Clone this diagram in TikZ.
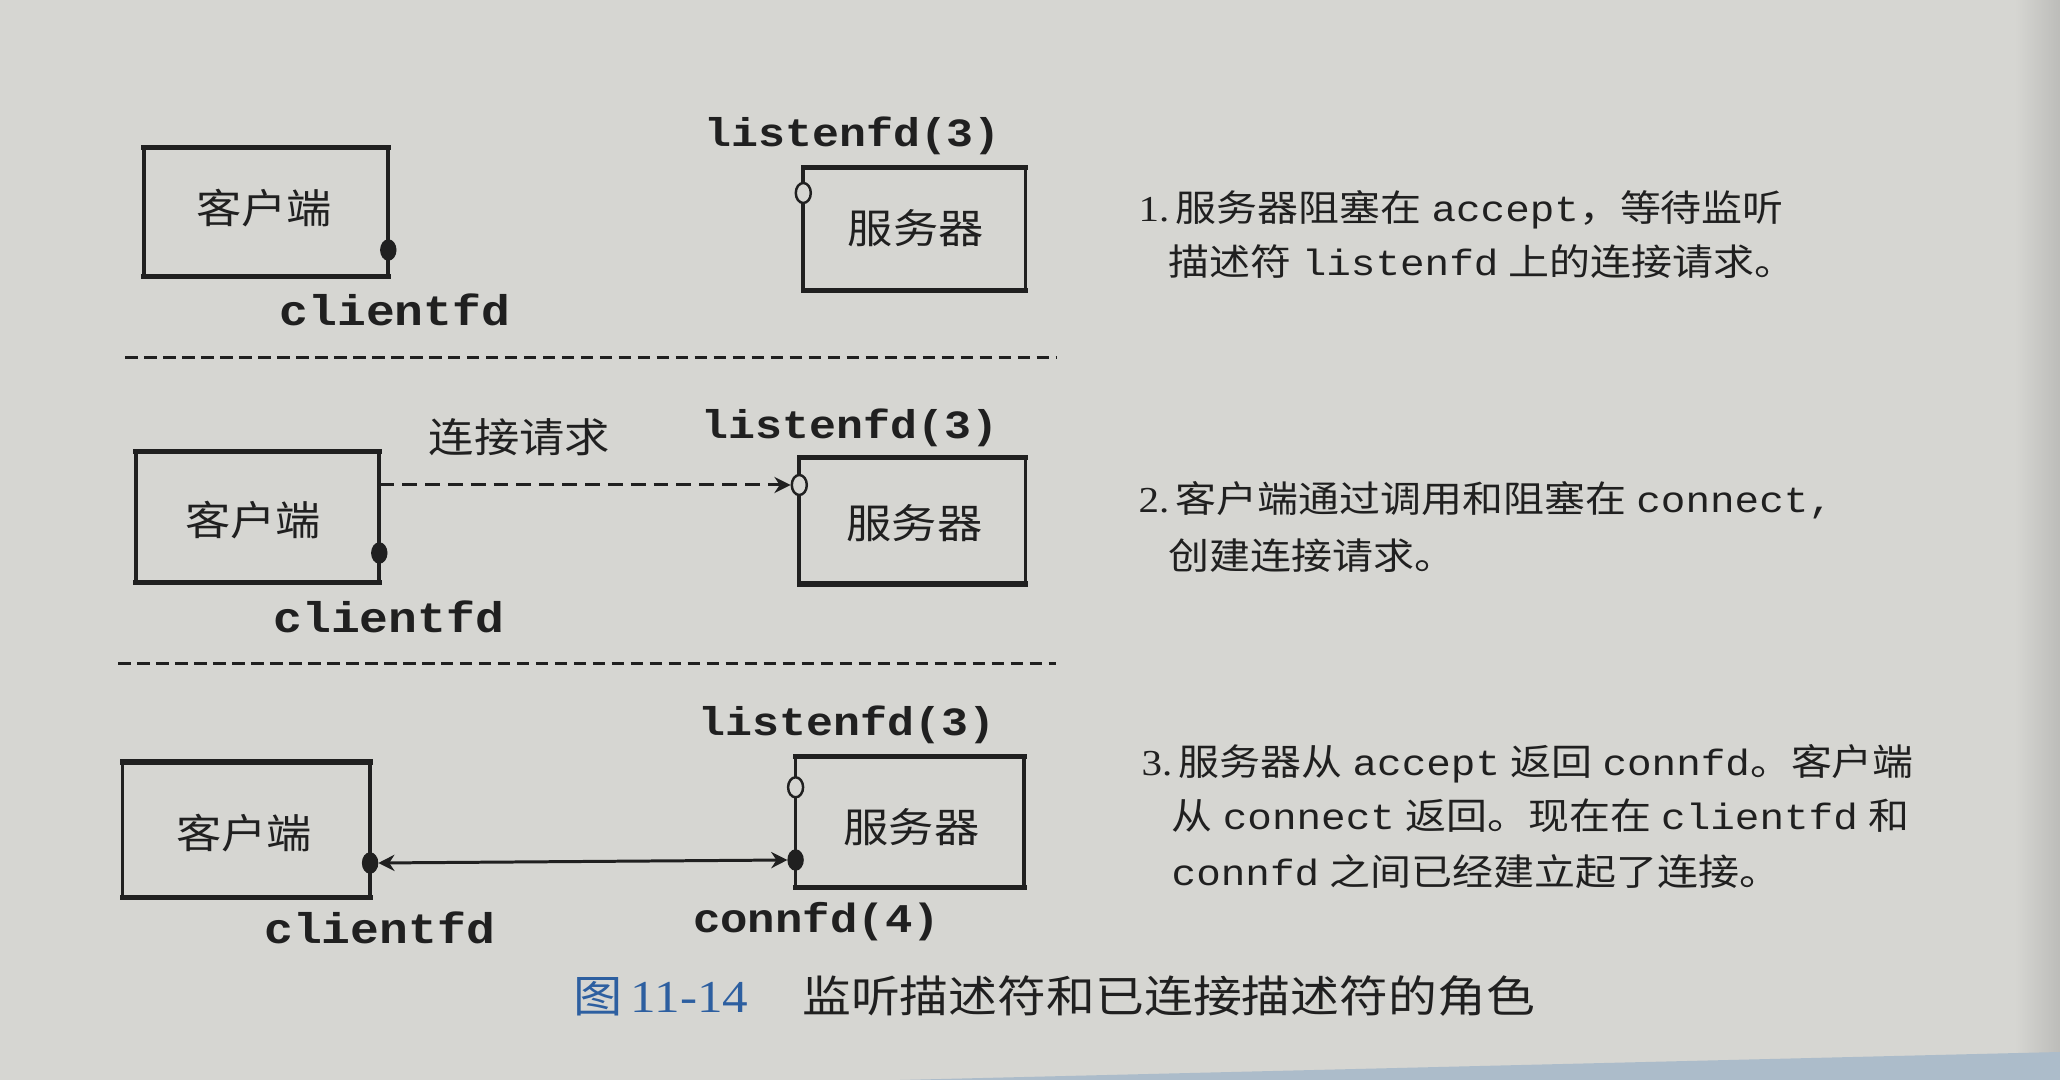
\documentclass[tikz,border=0pt]{standalone}
\usepackage{fontspec}
\usepackage{graphicx}
\setmainfont{Liberation Serif}
\newfontfamily\cjk{Noto Sans CJK SC}
\newfontfamily\mono{Liberation Mono}
\usetikzlibrary{arrows.meta,shapes.geometric,fit}
\definecolor{paper}{RGB}{214,214,210}
\definecolor{paperdark}{RGB}{188,188,185}
\definecolor{ink}{RGB}{32,32,32}
\definecolor{capblue}{RGB}{45,95,160}
\definecolor{bandblue}{RGB}{172,188,202}
\newcommand\hs[1]{\scalebox{1.12}[1]{#1}}
\newcommand\gp{\hspace{0.25em}}
\newcommand\boxedges[1]{%
  \draw[sidew] (#1.north west) -- (#1.south west) (#1.north east) -- (#1.south east);
  \draw[tbw] (#1.north west) -- (#1.north east) (#1.south west) -- (#1.south east);}
\begin{document}
\begin{tikzpicture}[x=0.01cm,y=-0.01cm,
  boxnode/.style={draw=none,inner sep=0pt},
  sidew/.style={draw=ink,line width=1.05pt,line cap=rect},
  tbw/.style={draw=ink,line width=1.5pt,line cap=rect},
  fdlbl/.style={inner sep=0pt,text=ink,font=\mono\bfseries\fontsize{11.4pt}{12pt}\selectfont},
  cjklbl/.style={inner sep=0pt,text=ink,font=\cjk\fontsize{11.5pt}{12pt}\selectfont},
  txtline/.style={anchor=base west,inner sep=0pt,text=ink,font=\fontsize{10.4pt}{12pt}\selectfont},
  dotf/.style={ellipse,fill=ink,draw=ink,inner sep=0pt,minimum width=0.15cm,minimum height=0.2cm},
  doto/.style={ellipse,fill=paper,draw=ink,line width=0.7pt,inner sep=0pt,minimum width=0.15cm,minimum height=0.2cm},
  sep/.style={draw=ink,line width=0.7pt,dash pattern=on 3.6pt off 1.8pt},
  darr/.style={draw=ink,line width=0.85pt,dash pattern=on 4.2pt off 2.3pt,-{Stealth[length=4.6pt,width=4.6pt]}},
  barr/.style={draw=ink,line width=0.85pt,{Stealth[length=4.6pt,width=4.6pt]}-{Stealth[length=4.6pt,width=4.6pt]}}
]
% background
\fill[paper] (0,0) rectangle (2060,1080);
\shade[left color=paper,right color=paperdark] (2015,0) rectangle (2060,1080);
\fill[bandblue] (900,1080) -- (2060,1052) -- (2060,1080) -- cycle;
\useasboundingbox (0,0) rectangle (2060,1080);

% ---------- panel 1 ----------
\node[boxnode,fit={(144.5,148.5)(387.6,275.9)}] (c1) {};
\node[boxnode,fit={(804,168)(1024.8,289.5)}] (s1) {};
\boxedges{c1}
\boxedges{s1}
\node[cjklbl] (c1t) at (264,207.6) {\hs{客户端}};
\node[cjklbl] (s1t) at (915.7,228.6) {\hs{服务器}};
\node[dotf] (d1) at (c1.east |- 0,250) {};
\node[doto] (o1) at (s1.west |- 0,193) {};
\node[fdlbl] (l1) at (852.7,136) {\hs{listenfd(3)}};
\node[fdlbl,font=\mono\bfseries\fontsize{12.2pt}{13pt}\selectfont] (cf1) at (395,310) {\hs{clientfd}};
\draw[sep] (125,357.4) -- (1056,357.4);

% ---------- panel 2 ----------
\node[boxnode,fit={(136.7,452)(378.6,581.5)}] (c2) {};
\node[boxnode,fit={(800,458.3)(1024.7,583.3)}] (s2) {};
\boxedges{c2}
\boxedges{s2}
\node[cjklbl] (c2t) at (253,520) {\hs{客户端}};
\node[cjklbl] (s2t) at (914.5,523.3) {\hs{服务器}};
\node[dotf] (d2) at (c2.east |- 0,553) {};
\node[doto] (o2) at (s2.west |- 0,485) {};
\draw[darr] (c2.east |- o2) -- (o2.west);
\node[cjklbl] (req) at (519.5,436.7) {\hs{连接请求}};
\node[fdlbl] (l2) at (850,428.3) {\hs{listenfd(3)}};
\node[fdlbl,font=\mono\bfseries\fontsize{12.2pt}{13pt}\selectfont] (cf2) at (388.8,616.7) {\hs{clientfd}};
\draw[sep] (118,663.3) -- (1056,663.3);

% ---------- panel 3 ----------
\node[boxnode,fit={(123.3,762.7)(369.4,896.7)}] (c3) {};
\node[boxnode,fit={(796.3,757.3)(1023.5,886.7)}] (s3) {};
\boxedges{c3}
\boxedges{s3}
\node[cjklbl] (c3t) at (244,833.3) {\hs{客户端}};
\node[cjklbl] (s3t) at (911.4,826.7) {\hs{服务器}};
\node[doto] (o3) at (s3.west |- 0,787.3) {};
\node[dotf] (d3c) at (c3.east |- 0,863) {};
\node[dotf] (d3s) at (s3.west |- 0,860) {};
\draw[barr] (d3c.east) -- (d3s.west);
\node[fdlbl] (l3) at (847,725) {\hs{listenfd(3)}};
\node[fdlbl,font=\mono\bfseries\fontsize{12.2pt}{13pt}\selectfont] (cf3) at (379.6,928.3) {\hs{clientfd}};
\node[fdlbl,font=\mono\bfseries\fontsize{11.6pt}{13pt}\selectfont] (cn3) at (816.5,921.7) {\hs{connfd(4)}};

% ---------- explanations ----------
\node[txtline] (t1a) at (1138,222) {\hs{1.\hspace{0.15em}{\cjk 服务器阻塞在}\gp{\mono accept}{\cjk ，等待监听}}};
\node[txtline] (t1b) at (1168,276) {\hs{{\cjk 描述符}\gp{\mono listenfd}\gp{\cjk 上的连接请求。}}};
\node[txtline] (t2a) at (1138,513) {\hs{2.\hspace{0.15em}{\cjk 客户端通过调用和阻塞在}\gp{\mono connect,}}};
\node[txtline] (t2b) at (1168,570) {\hs{{\cjk 创建连接请求。}}};
\node[txtline] (t3a) at (1141,776) {\hs{3.\hspace{0.15em}{\cjk 服务器从}\gp{\mono accept}\gp{\cjk 返回}\gp{\mono connfd}{\cjk 。客户端}}};
\node[txtline] (t3b) at (1171,830) {\hs{{\cjk 从}\gp{\mono connect}\gp{\cjk 返回。现在在}\gp{\mono clientfd}\gp{\cjk 和}}};
\node[txtline] (t3c) at (1171,886) {\hs{{\mono connfd}\gp{\cjk 之间已经建立起了连接。}}};

% ---------- caption ----------
\node[anchor=base west,inner sep=0pt,text=capblue,font=\cjk\fontsize{12.5pt}{13pt}\selectfont] (fig) at (573,1013) {\hs{图}};
\node[anchor=base west,inner sep=0pt,text=capblue,font=\fontsize{13pt}{13pt}\selectfont] (num) at (630,1013) {\hs{11-14}};
\node[anchor=base west,inner sep=0pt,text=ink,font=\cjk\fontsize{12.4pt}{14pt}\selectfont] (title) at (801.6,1013) {\hs{监听描述符和已连接描述符的角色}};
\end{tikzpicture}
\end{document}
